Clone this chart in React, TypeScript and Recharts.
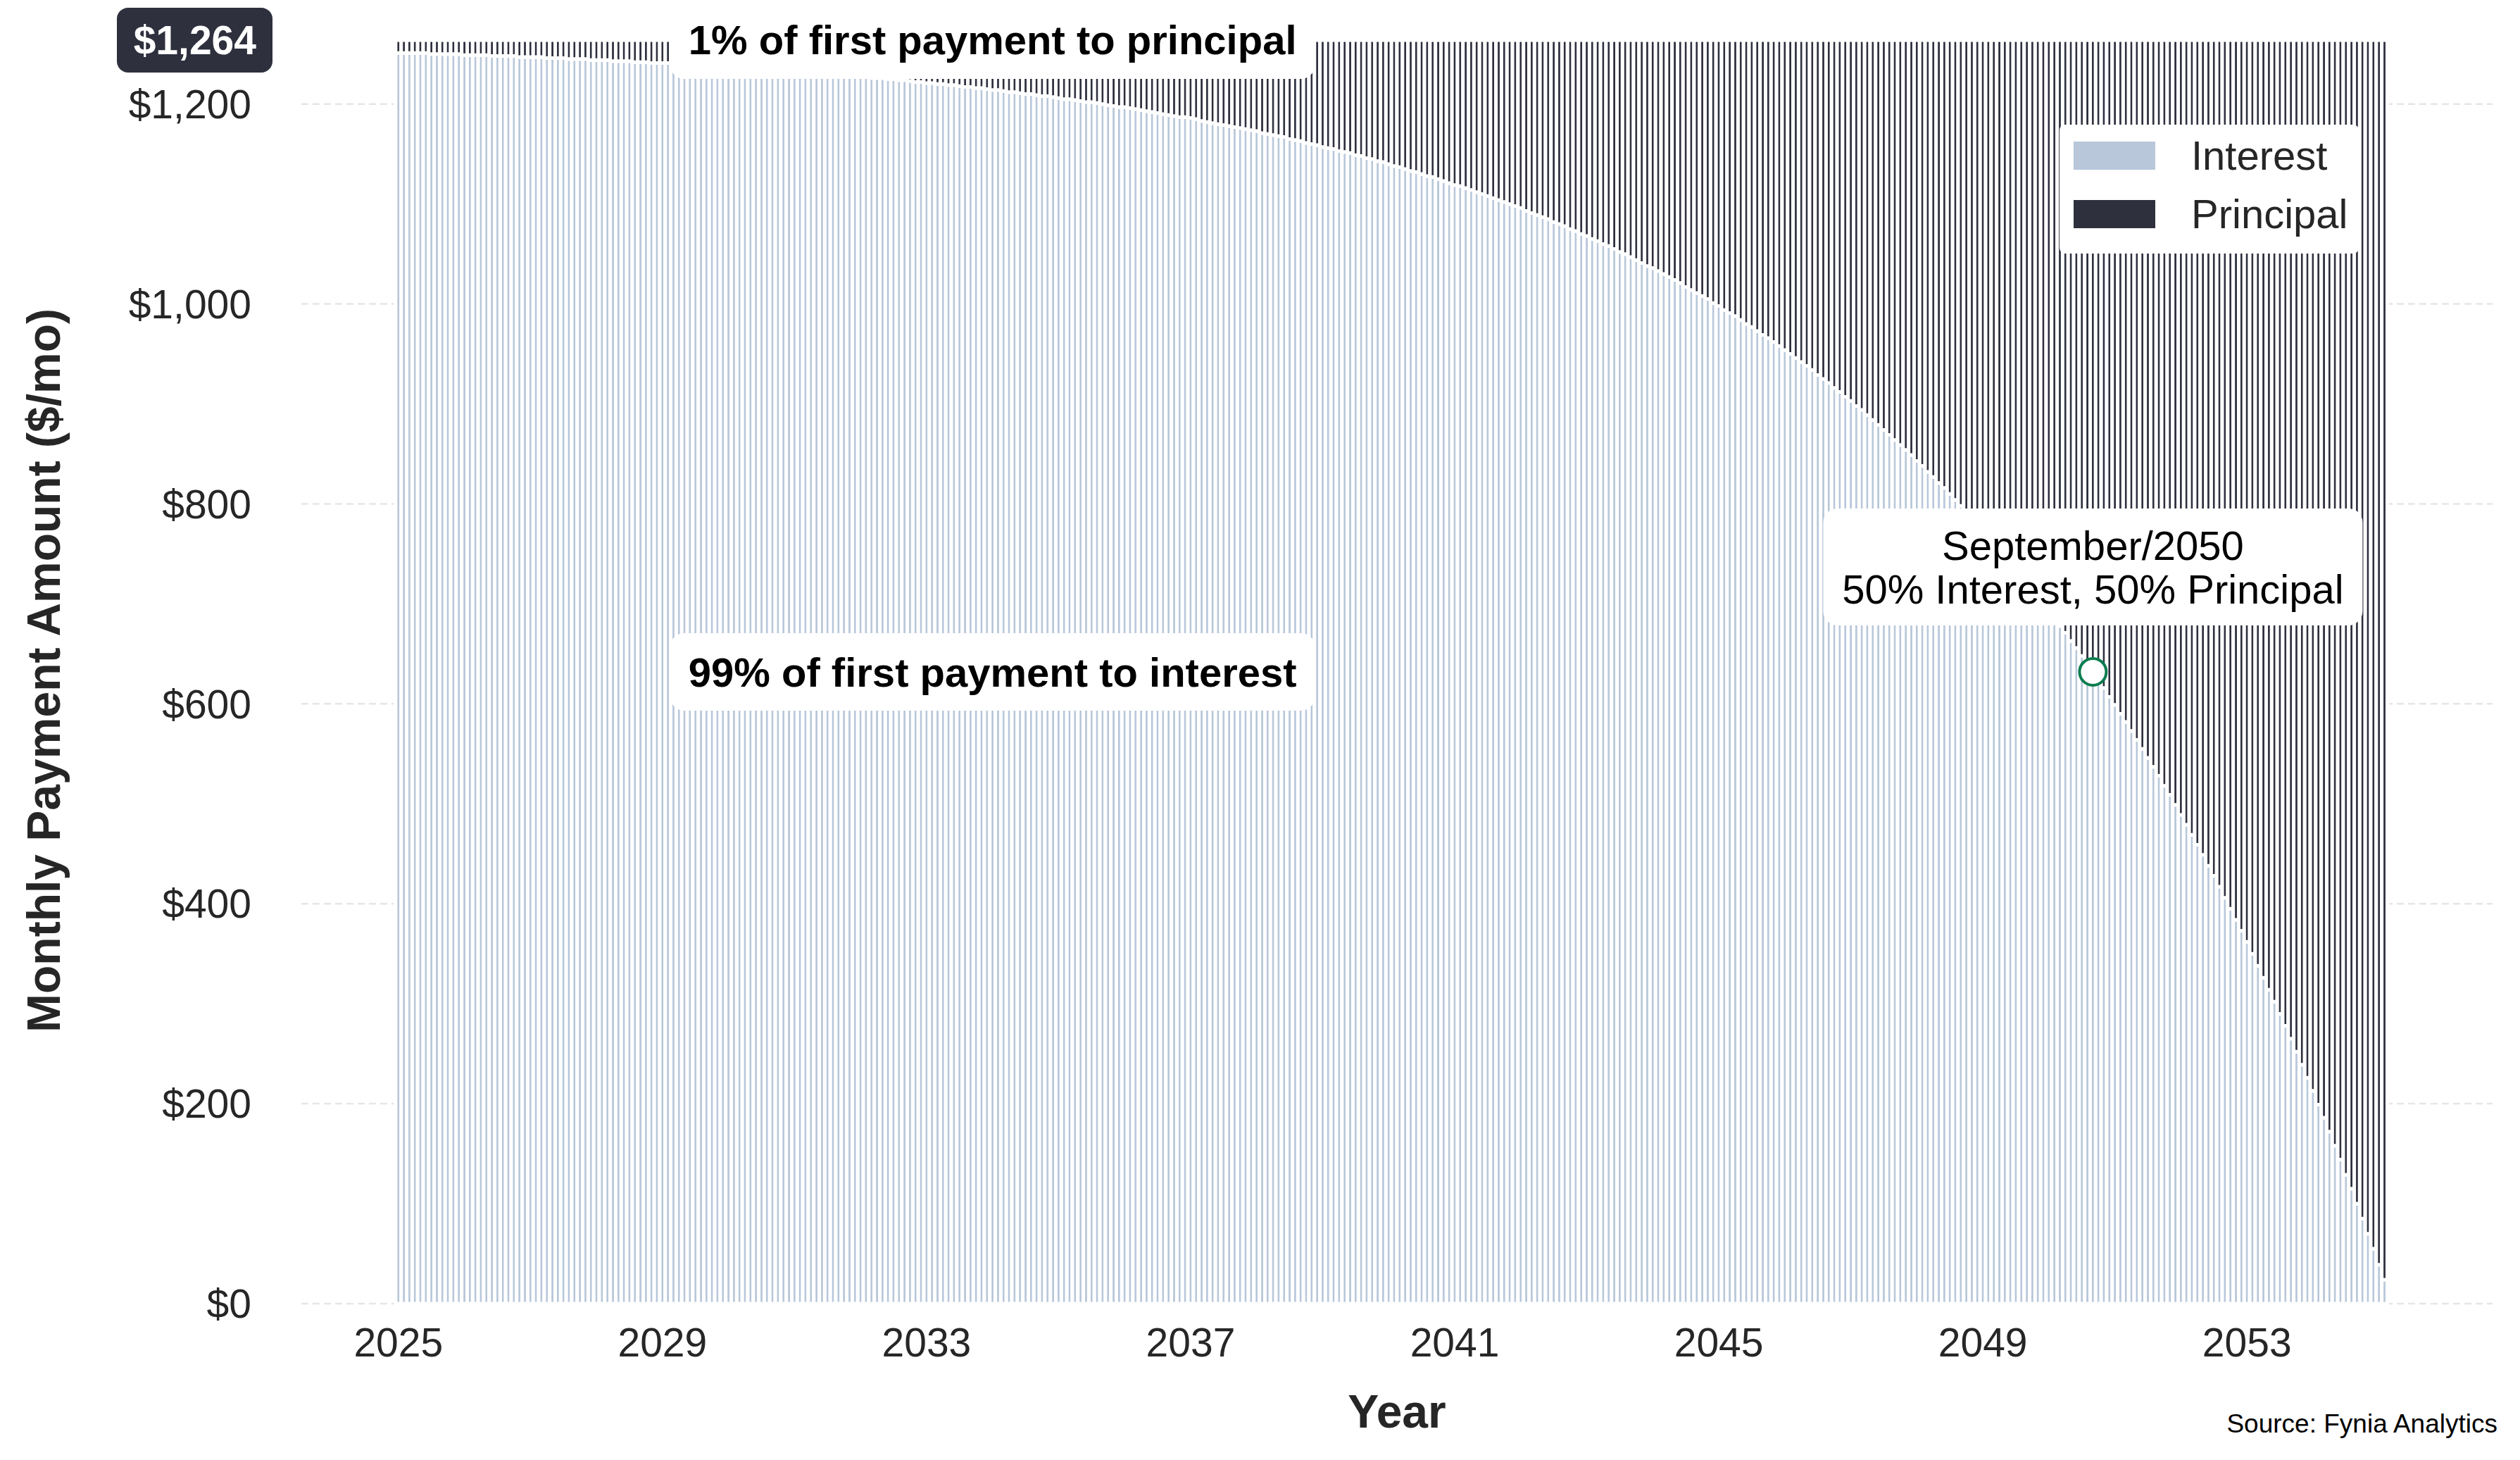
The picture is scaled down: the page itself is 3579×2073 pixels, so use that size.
import React from 'react';
import { BarChart, Bar, XAxis, YAxis, CartesianGrid, Legend, ReferenceDot } from 'recharts';

const PAYMENT = 1264;

const years = [
  2025, 2026, 2027, 2028, 2029, 2030, 2031, 2032, 2033, 2034,
  2035, 2036, 2037, 2038, 2039, 2040, 2041, 2042, 2043, 2044,
  2045, 2046, 2047, 2048, 2049, 2050, 2051, 2052, 2053, 2054, 2055,
];

// principal part of each monthly payment, Jan..Dec, one row per year
const principalByYear = [
  [13, 13, 13, 13, 13, 13, 14, 14, 14, 14, 14, 14],
  [15, 15, 15, 15, 15, 16, 16, 16, 16, 16, 17, 17],
  [17, 17, 17, 18, 18, 18, 18, 19, 19, 19, 19, 20],
  [20, 20, 20, 21, 21, 21, 21, 22, 22, 22, 23, 23],
  [23, 23, 24, 24, 24, 25, 25, 25, 26, 26, 26, 27],
  [27, 27, 28, 28, 28, 29, 29, 29, 30, 30, 31, 31],
  [31, 32, 32, 33, 33, 33, 34, 34, 35, 35, 36, 36],
  [37, 37, 38, 38, 38, 39, 39, 40, 40, 41, 42, 42],
  [43, 43, 44, 44, 45, 45, 46, 47, 47, 48, 48, 49],
  [50, 50, 51, 52, 52, 53, 54, 54, 55, 56, 56, 57],
  [58, 59, 59, 60, 61, 62, 62, 63, 64, 65, 66, 67],
  [67, 68, 69, 70, 71, 72, 73, 74, 75, 76, 77, 77],
  [78, 79, 81, 82, 83, 84, 85, 86, 87, 88, 89, 90],
  [91, 93, 94, 95, 96, 97, 99, 100, 101, 103, 104, 105],
  [107, 108, 109, 111, 112, 113, 115, 116, 118, 119, 121, 122],
  [124, 126, 127, 129, 131, 132, 134, 136, 137, 139, 141, 143],
  [145, 146, 148, 150, 152, 154, 156, 158, 160, 162, 164, 166],
  [168, 171, 173, 175, 177, 179, 182, 184, 186, 189, 191, 194],
  [196, 199, 201, 204, 206, 209, 212, 214, 217, 220, 223, 226],
  [228, 231, 234, 237, 240, 243, 247, 250, 253, 256, 259, 263],
  [266, 270, 273, 276, 280, 284, 287, 291, 295, 298, 302, 306],
  [310, 314, 318, 322, 326, 330, 335, 339, 343, 348, 352, 357],
  [361, 366, 370, 375, 380, 385, 390, 395, 400, 405, 410, 415],
  [421, 426, 432, 437, 443, 448, 454, 460, 466, 472, 478, 484],
  [490, 496, 503, 509, 516, 522, 529, 536, 543, 549, 557, 564],
  [571, 578, 586, 593, 601, 608, 616, 624, 632, 640, 648, 657],
  [665, 674, 682, 691, 700, 709, 718, 727, 736, 746, 755, 765],
  [775, 785, 795, 805, 815, 826, 836, 847, 858, 869, 880, 891],
  [902, 914, 926, 938, 950, 962, 974, 986, 999, 1012, 1025, 1038],
  [1051, 1065, 1078, 1092, 1106, 1120, 1135, 1149, 1164, 1179, 1194, 1209],
  [1225, 1240],
];

const xTicks = [2025, 2029, 2033, 2037, 2041, 2045, 2049, 2053];
const yTicks = [0, 200, 400, 600, 800, 1000, 1200, PAYMENT];
const gridValues = [0, 200, 400, 600, 800, 1000, 1200];

const data = years.flatMap((yr, yi) =>
  principalByYear[yi].map((p, m) => ({ t: yr + m / 12, interest: PAYMENT - p, principal: p }))
);

// September 2050 - the 50/50 month
const half = data[(2050 - 2025) * 12 + 8];
const NOTE_X = 2034;

const INTEREST = '#b8c7da';
const PRINCIPAL = '#2e303e';
const FONT = '"Liberation Sans", Arial, Helvetica, sans-serif';
const TEXT = '#262626';

const legendColors: Record<string, string> = { interest: INTEREST, principal: PRINCIPAL };

const renderYTick = (props: any) => {
  const { x, y, payload } = props;
  if (payload.value === PAYMENT) {
    return (
      <g>
        <rect x={x - 191} y={y - 46} width={221} height={92} rx={16} fill={PRINCIPAL} />
        <text x={x + 7} y={y} dy="0.355em" textAnchor="end" fill="#fff" fontSize={57} fontWeight="bold" fontFamily={FONT}>
          {`$${payload.value.toLocaleString('en-US')}`}
        </text>
      </g>
    );
  }
  return (
    <text x={x} y={y} dy="0.355em" textAnchor="end" fill={TEXT} fontSize={57} fontFamily={FONT}>
      {`$${payload.value.toLocaleString('en-US')}`}
    </text>
  );
};

const noteBox = (text: string) => (props: any) => {
  const { cx, cy } = props;
  return (
    <g>
      <rect x={cx - 458} y={cy - 55} width={916} height={110} rx={20} fill="#fff" />
      <text x={cx} y={cy} dy="0.355em" textAnchor="middle" fill="#000" fontSize={58} fontWeight="bold" fontFamily={FONT}>
        {text}
      </text>
    </g>
  );
};

const halfMarker = (props: any) => {
  const { cx, cy } = props;
  const by = cy - 149;
  return (
    <g>
      <circle cx={cx} cy={cy} r={19} fill="#fff" stroke="#0b7d4f" strokeWidth={4} />
      <rect x={cx - 383} y={by - 83} width={766} height={166} rx={20} fill="#fff" />
      <text textAnchor="middle" fill="#000" fontSize={58} fontFamily={FONT}>
        <tspan x={cx} y={by - 31} dy="0.355em">September/2050</tspan>
        <tspan x={cx} y={by + 31} dy="0.355em">50% Interest, 50% Principal</tspan>
      </text>
    </g>
  );
};

const renderLegend = (props: any) => (
  <div style={{ background: '#fff', borderRadius: 8, width: 425, height: 183, boxSizing: 'border-box', paddingTop: 2, paddingLeft: 20, fontFamily: FONT }}>
    {props.payload.map((entry: any) => (
      <div key={entry.value} style={{ display: 'flex', alignItems: 'center', height: 83 }}>
        <span style={{ display: 'inline-block', width: 116, height: 40, background: legendColors[entry.dataKey] }} />
        <span style={{ marginLeft: 51, fontSize: 58, color: TEXT, lineHeight: '58px' }}>{entry.value}</span>
      </div>
    ))}
  </div>
);

const App = () => (
  <div style={{ position: 'absolute', left: 0, top: 0, width: 3579, height: 2073, background: '#fff', fontFamily: FONT }}>
    <BarChart width={3579} height={2073} data={data} margin={{ top: 20, right: 39, bottom: 72, left: 0 }}>
      <CartesianGrid vertical={false} horizontalValues={gridValues} stroke="#e6e6e6" strokeDasharray="10 6" strokeWidth={2.5} />
      <XAxis
        dataKey="t"
        type="number"
        domain={[2023.53, 2056.72]}
        allowDataOverflow
        ticks={xTicks}
        interval={0}
        axisLine={false}
        tickLine={false}
        tickSize={0}
        tickMargin={35}
        height={150}
        tick={{ fill: TEXT, fontSize: 57, fontFamily: FONT }}
        label={{
          content: (p: any) => (
            <text x={p.viewBox.x + p.viewBox.width / 2} y={2004} dy="0.355em" textAnchor="middle" fill={TEXT} fontSize={66} fontWeight="bold" fontFamily={FONT}>
              Year
            </text>
          ),
        }}
      />
      <YAxis
        type="number"
        domain={[0, 1290]}
        ticks={yTicks}
        interval={0}
        width={428}
        axisLine={false}
        tickLine={false}
        tickSize={0}
        tickMargin={71}
        tick={renderYTick}
        label={{
          content: () => (
            <text x={62} y={952} dy="0.355em" transform="rotate(-90 62 952)" textAnchor="middle" fill={TEXT} fontSize={66} fontWeight="bold" fontFamily={FONT}>
              Monthly Payment Amount ($/mo)
            </text>
          ),
        }}
      />
      <Legend
        layout="vertical"
        align="center"
        verticalAlign="middle"
        content={renderLegend}
        wrapperStyle={{ left: 2925, top: 177, width: 425, height: 183 }}
      />
      <Bar dataKey="interest" name="Interest" stackId="a" fill={INTEREST} stroke="#fff" strokeWidth={5} barSize={7.8} isAnimationActive={false} />
      <Bar dataKey="principal" name="Principal" stackId="a" fill={PRINCIPAL} stroke="#fff" strokeWidth={5} barSize={7.8} isAnimationActive={false} />
      <ReferenceDot x={NOTE_X} y={PAYMENT} r={0} shape={noteBox('1% of first payment to principal')} />
      <ReferenceDot x={NOTE_X} y={PAYMENT / 2} r={0} shape={noteBox('99% of first payment to interest')} />
      <ReferenceDot x={half.t} y={half.interest} r={19} shape={halfMarker} />
    </BarChart>
    <div style={{ position: 'absolute', right: 32, top: 2003, fontSize: 37, lineHeight: '37px', color: '#000', fontFamily: FONT }}>
      Source: Fynia Analytics
    </div>
  </div>
);

export default App;
